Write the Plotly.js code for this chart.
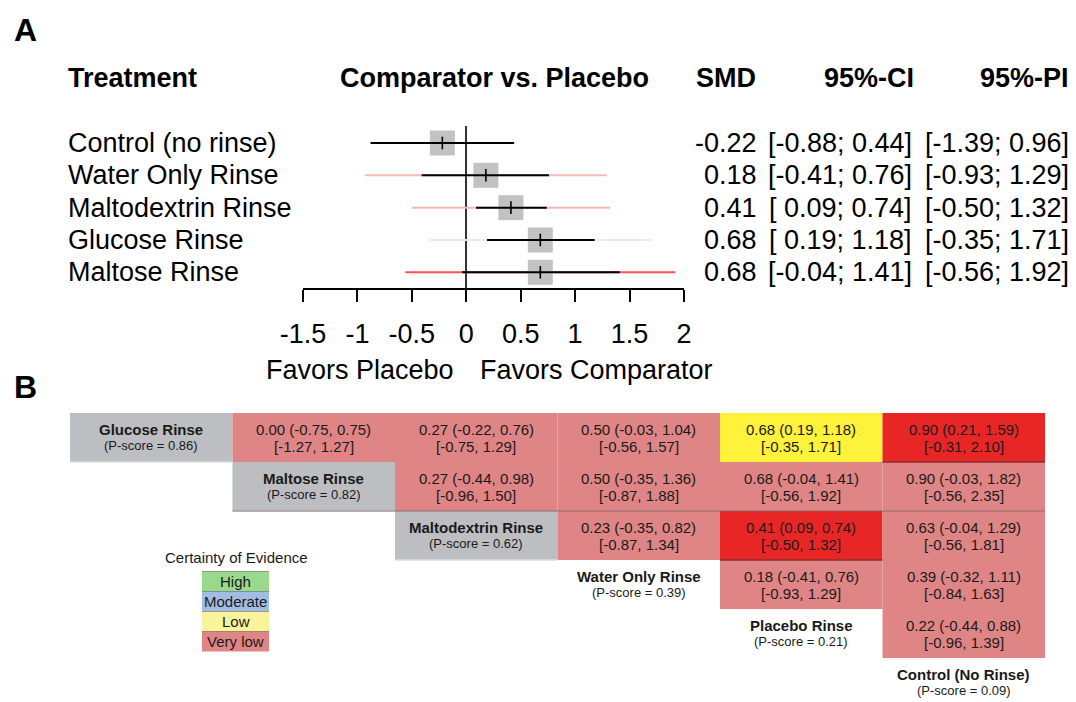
<!DOCTYPE html>
<html>
<head>
<meta charset="utf-8">
<script src="https://cdn.plot.ly/plotly-3.0.1.min.js"></script>
<style>
  html, body { margin: 0; padding: 0; background: #ffffff; }
  #chart { width: 1076px; height: 702px; }
</style>
</head>
<body>
<div id="chart"></div>
<script>
// ---------- Panel A: forest plot, each rinse vs. placebo ----------
const forestTreatments = ["Control (no rinse)", "Water Only Rinse", "Maltodextrin Rinse", "Glucose Rinse", "Maltose Rinse"];
const forestSMD  = [-0.22, 0.18, 0.41, 0.68, 0.68];
const forestCILo = [-0.88, -0.41, 0.09, 0.19, -0.04];
const forestCIHi = [0.44, 0.76, 0.74, 1.18, 1.41];
const forestPILo = [-1.39, -0.93, -0.50, -0.35, -0.56];
const forestPIHi = [0.96, 1.29, 1.32, 1.71, 1.92];
const forestTicks = [-1.5, -1, -0.5, 0, 0.5, 1, 1.5, 2];
const forestTickLabels = ["-1.5", "-1", "-0.5", "0", "0.5", "1", "1.5", "2"];

// ---------- Panel B: league table ----------
const leagueTreatments = ["Glucose Rinse", "Maltose Rinse", "Maltodextrin Rinse", "Water Only Rinse", "Placebo Rinse", "Control (No Rinse)"];
const leaguePScores = [0.86, 0.82, 0.62, 0.39, 0.21, 0.09];
const leagueRow  = [0, 0, 0, 0, 0, 1, 1, 1, 1, 2, 2, 2, 3, 3, 4];
const leagueCol  = [1, 2, 3, 4, 5, 2, 3, 4, 5, 3, 4, 5, 4, 5, 5];
const leagueSMD  = [0.00, 0.27, 0.50, 0.68, 0.90, 0.27, 0.50, 0.68, 0.90, 0.23, 0.41, 0.63, 0.18, 0.39, 0.22];
const leagueCILo = [-0.75, -0.22, -0.03, 0.19, 0.21, -0.44, -0.35, -0.04, -0.03, -0.35, 0.09, -0.04, -0.41, -0.32, -0.44];
const leagueCIHi = [0.75, 0.76, 1.04, 1.18, 1.59, 0.98, 1.36, 1.41, 1.82, 0.82, 0.74, 1.29, 0.76, 1.11, 0.88];
const leaguePILo = [-1.27, -0.75, -0.56, -0.35, -0.31, -0.96, -0.87, -0.56, -0.56, -0.87, -0.50, -0.56, -0.93, -0.84, -0.96];
const leaguePIHi = [1.27, 1.29, 1.57, 1.71, 2.10, 1.50, 1.88, 1.92, 2.35, 1.34, 1.32, 1.81, 1.29, 1.63, 1.39];
const leagueCertainty = ["Very low", "Very low", "Very low", "Low", "Very low",
                         "Very low", "Very low", "Very low", "Very low",
                         "Very low", "Very low", "Very low",
                         "Very low", "Very low",
                         "Very low"];
const certaintyLevels = ["High", "Moderate", "Low", "Very low"];

// ---------- styles ----------
const FONT = "Liberation Sans, Arial, Helvetica, sans-serif";
const W = 1076, H = 702;
const px = x => x / W;
const py = y => 1 - y / H;
const certaintyLight  = { "High": "#98d98c", "Moderate": "#a2bde3", "Low": "#f9f49b", "Very low": "#e08585" };
const certaintyStrong = { "High": "#3fbf3f", "Moderate": "#4f86d6", "Low": "#fff23a", "Very low": "#e92626" };
const piColors = ["rgba(255,255,255,0)", "#f9b9b9", "#f7b6b6", "#fde4e4", "#ff5252"];
const labelGray = "#bdbec2";
const shadedLabelCount = 3;

const fmt = v => v.toFixed(2);
const fmtPad = v => (v >= 0 ? "\u00a0" : "") + v.toFixed(2);

const traces = [];

// prediction intervals (drawn first, behind everything)
forestTreatments.forEach((t, k) => {
  traces.push({
    type: "scatter", mode: "lines", xaxis: "x", yaxis: "y",
    x: [forestPILo[k], forestPIHi[k]], y: [k, k],
    line: { color: piColors[k], width: 2 }, hoverinfo: "skip"
  });
});

// summary squares
traces.push({
  type: "scatter", mode: "markers", xaxis: "x", yaxis: "y",
  x: forestSMD, y: forestTreatments.map((t, k) => k),
  marker: { symbol: "square", size: 25, color: "#c2c2c2", line: { width: 0 } },
  hoverinfo: "skip"
});

// confidence intervals
const ciX = [], ciY = [];
forestTreatments.forEach((t, k) => { ciX.push(forestCILo[k], forestCIHi[k], null); ciY.push(k, k, null); });
traces.push({
  type: "scatter", mode: "lines", xaxis: "x", yaxis: "y",
  x: ciX, y: ciY, line: { color: "#000000", width: 2 }, hoverinfo: "skip"
});

// point estimates
traces.push({
  type: "scatter", mode: "markers", xaxis: "x", yaxis: "y",
  x: forestSMD, y: forestTreatments.map((t, k) => k),
  marker: { symbol: "line-ns", size: 9, line: { color: "#000000", width: 1.6 } },
  hoverinfo: "skip"
});

// invisible anchor trace for the league-table axes
traces.push({
  type: "scatter", mode: "markers", xaxis: "x2", yaxis: "y2",
  x: [0, 6], y: [0, 5], marker: { opacity: 0 }, hoverinfo: "skip"
});

const annotations = [];
const shapes = [];

// panel letters
annotations.push({ xref: "paper", yref: "paper", x: px(25), y: py(30), text: "<b>A</b>", showarrow: false,
  font: { family: FONT, size: 32, color: "#000" }, xanchor: "center", yanchor: "middle" });
annotations.push({ xref: "paper", yref: "paper", x: px(25), y: py(387), text: "<b>B</b>", showarrow: false,
  font: { family: FONT, size: 32, color: "#000" }, xanchor: "center", yanchor: "middle" });

// forest headers
const headFont = { family: FONT, size: 27, color: "#000" };
[["Treatment", 66, "left"], ["Comparator vs. Placebo", 338, "left"], ["SMD", 758, "right"],
 ["95%-CI", 916, "right"], ["95%-PI", 1071, "right"]].forEach(h => {
  annotations.push({ xref: "paper", yref: "paper", x: px(h[1]), y: py(78), text: "<b>" + h[0] + "</b>",
    showarrow: false, font: headFont, xanchor: h[2], yanchor: "middle" });
});

// forest row text
const rowFont = { family: FONT, size: 27, color: "#000" };
forestTreatments.forEach((t, k) => {
  annotations.push({ xref: "paper", yref: "y", x: px(66), y: k, text: t, showarrow: false,
    font: rowFont, xanchor: "left", yanchor: "middle" });
  annotations.push({ xref: "paper", yref: "y", x: px(759), y: k, text: fmt(forestSMD[k]), showarrow: false,
    font: rowFont, xanchor: "right", yanchor: "middle" });
  annotations.push({ xref: "paper", yref: "y", x: px(914), y: k,
    text: "[" + fmtPad(forestCILo[k]) + "; " + fmt(forestCIHi[k]) + "]", showarrow: false,
    font: rowFont, xanchor: "right", yanchor: "middle" });
  annotations.push({ xref: "paper", yref: "y", x: px(1071), y: k,
    text: "[" + fmtPad(forestPILo[k]) + "; " + fmt(forestPIHi[k]) + "]", showarrow: false,
    font: rowFont, xanchor: "right", yanchor: "middle" });
});

// favours labels
annotations.push({ xref: "paper", yref: "paper", x: px(456), y: py(370), text: "Favors Placebo", showarrow: false,
  font: rowFont, xanchor: "right", yanchor: "middle" });
annotations.push({ xref: "paper", yref: "paper", x: px(478), y: py(370), text: "Favors Comparator", showarrow: false,
  font: rowFont, xanchor: "left", yanchor: "middle" });

// league table: treatment labels on the diagonal
leagueTreatments.forEach((t, i) => {
  if (i < shadedLabelCount) {
    shapes.push({ type: "rect", xref: "x2", yref: "y2", x0: i, x1: i + 1, y0: i, y1: i + 1,
      fillcolor: labelGray, line: { width: 0 }, layer: "below" });
    shapes.push({ type: "line", xref: "x2", yref: "y2", x0: i, x1: i + 1, y0: i + 1, y1: i + 1,
      line: { color: "#dcdde0", width: 1.5 } });
  }
  annotations.push({ xref: "x2", yref: "y2", x: i + 0.5, y: i + 0.5, yshift: 8, text: "<b>" + t + "</b>",
    showarrow: false, font: { family: FONT, size: 15, color: "#1a1a1a" }, xanchor: "center", yanchor: "middle" });
  annotations.push({ xref: "x2", yref: "y2", x: i + 0.5, y: i + 0.5, yshift: -8,
    text: "(P-score = " + leaguePScores[i].toFixed(2) + ")",
    showarrow: false, font: { family: FONT, size: 13, color: "#1a1a1a" }, xanchor: "center", yanchor: "middle" });
});

// league table: comparison cells
leagueRow.forEach((r, n) => {
  const c = leagueCol[n];
  const significant = leagueCILo[n] > 0 || leagueCIHi[n] < 0;
  const fill = (significant ? certaintyStrong : certaintyLight)[leagueCertainty[n]];
  shapes.push({ type: "rect", xref: "x2", yref: "y2", x0: c, x1: c + 1, y0: r, y1: r + 1,
    fillcolor: fill, line: { width: 0 }, layer: "below" });
  if (significant && leagueCertainty[n] === "Very low") {
    shapes.push({ type: "line", xref: "x2", yref: "y2", x0: c, x1: c + 1, y0: r + 1, y1: r + 1,
      line: { color: "#8a3030", width: 1.5 } });
  }
  annotations.push({ xref: "x2", yref: "y2", x: c + 0.5, y: r + 0.5, yshift: 8,
    text: fmt(leagueSMD[n]) + " (" + fmt(leagueCILo[n]) + ", " + fmt(leagueCIHi[n]) + ")",
    showarrow: false, font: { family: FONT, size: 15, color: "#1a1a1a" }, xanchor: "center", yanchor: "middle" });
  annotations.push({ xref: "x2", yref: "y2", x: c + 0.5, y: r + 0.5, yshift: -9,
    text: "[" + fmt(leaguePILo[n]) + ", " + fmt(leaguePIHi[n]) + "]",
    showarrow: false, font: { family: FONT, size: 15, color: "#1a1a1a" }, xanchor: "center", yanchor: "middle" });
});
// faint rule under the second row of the table
shapes.push({ type: "line", xref: "x2", yref: "y2", x0: 1, x1: 6, y0: 2, y1: 2,
  line: { color: "rgba(120,100,100,0.55)", width: 1.5 } });

// certainty legend
annotations.push({ xref: "paper", yref: "paper", x: px(236), y: py(557), text: "Certainty of Evidence", showarrow: false,
  font: { family: FONT, size: 15, color: "#1a1a1a" }, xanchor: "center", yanchor: "middle" });
certaintyLevels.forEach((lvl, i) => {
  const top = 571.5 + i * 20, bot = top + 20;
  shapes.push({ type: "rect", xref: "paper", yref: "paper", x0: px(202), x1: px(269), y0: py(bot), y1: py(top),
    fillcolor: certaintyLight[lvl], line: { width: 0 } });
  shapes.push({ type: "line", xref: "paper", yref: "paper", x0: px(202), x1: px(269), y0: py(top), y1: py(top),
    line: { color: "rgba(60,60,60,0.45)", width: 1 } });
  annotations.push({ xref: "paper", yref: "paper", x: px(235.5), y: py(top + 10), text: lvl, showarrow: false,
    font: { family: FONT, size: 15, color: "#1a1a1a" }, xanchor: "center", yanchor: "middle" });
});

const layout = {
  width: W, height: H,
  margin: { l: 0, r: 0, t: 0, b: 0, pad: 0 },
  paper_bgcolor: "#ffffff", plot_bgcolor: "rgba(0,0,0,0)",
  showlegend: false,
  font: { family: FONT, color: "#000" },
  xaxis: {
    domain: [px(303), px(684)], range: [-1.5, 2], anchor: "y",
    tickmode: "array", tickvals: forestTicks, ticktext: forestTickLabels,
    showline: true, linecolor: "#000", linewidth: 2,
    ticks: "outside", ticklen: 12, tickwidth: 2, tickcolor: "#000",
    tickfont: { family: FONT, size: 27, color: "#000" }, ticklabelstandoff: 9,
    showgrid: false, zeroline: true, zerolinecolor: "#333333", zerolinewidth: 2,
    fixedrange: true
  },
  yaxis: {
    domain: [py(288), py(126)], range: [4.486, -0.526], anchor: "x",
    visible: false, showgrid: false, zeroline: false, fixedrange: true
  },
  xaxis2: {
    domain: [px(70), px(1045)], range: [0, 6], anchor: "y2",
    visible: false, showgrid: false, zeroline: false, fixedrange: true
  },
  yaxis2: {
    domain: [0, py(413)], range: [(H - 413) / 49, 0], anchor: "x2",
    visible: false, showgrid: false, zeroline: false, fixedrange: true
  },
  shapes: shapes,
  annotations: annotations
};

Plotly.newPlot("chart", traces, layout, { staticPlot: true, displayModeBar: false });
</script>
</body>
</html>
